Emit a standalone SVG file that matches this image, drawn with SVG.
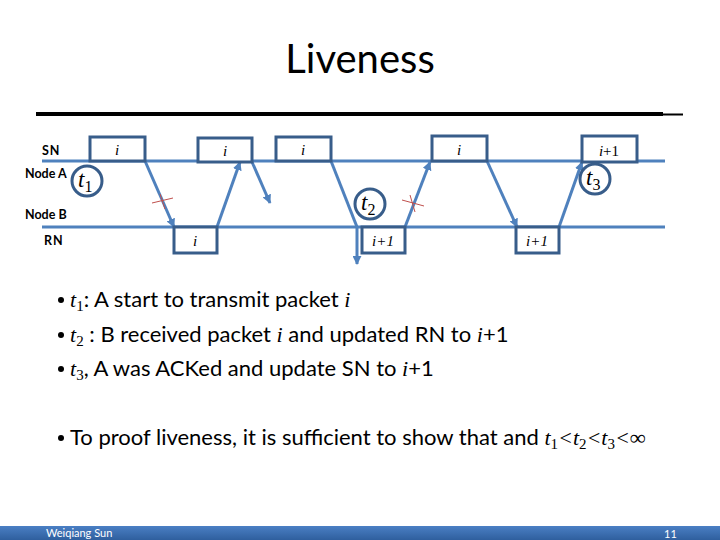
<svg xmlns="http://www.w3.org/2000/svg" width="720" height="540" viewBox="0 0 720 540">
<style>
.title{font-family:Lato,"Open Sans",sans-serif;font-size:40px;fill:#000}
.lbl{font-family:Lato,"Liberation Sans",sans-serif;font-size:12.5px;font-weight:bold;fill:#000}
.axis{stroke:#4f81bd;stroke-width:3;fill:none}
.box{fill:#fff;stroke:#385d8a;stroke-width:3}
.bt{font-family:"Liberation Serif",serif;font-style:italic;font-size:15px;fill:#000;text-anchor:middle}
.circ{fill:#fff;stroke:#385d8a;stroke-width:3}
.tt{font-family:"Liberation Serif",serif;font-style:italic;font-size:23px;fill:#000}
.ts{font-family:"Liberation Serif",serif;font-style:normal;font-size:16px}
.arr{stroke:#4f81bd;stroke-width:3;fill:none}
.x{stroke:#c0504d;stroke-width:1}
.body{font-family:Lato,"Open Sans",sans-serif;font-size:22px;fill:#000}
.it{font-family:"Liberation Serif",serif;font-style:italic}
.sub{font-family:"Liberation Serif",serif;font-size:15px}
.foot{font-family:Lato,"Liberation Sans",sans-serif;font-size:11px;fill:#fff}
</style>
<defs>
<marker id="ah" viewBox="0 0 10 10" refX="9" refY="5" markerWidth="9" markerHeight="9" markerUnits="userSpaceOnUse" orient="auto">
<path d="M0,0 L10,5 L0,10 z" fill="#4f81bd"/>
</marker>
<linearGradient id="fg" x1="0" y1="0" x2="0" y2="1">
<stop offset="0" stop-color="#4a7fc4"/>
<stop offset="1" stop-color="#2f5f9e"/>
</linearGradient>
</defs>
<rect width="720" height="540" fill="#fff"/>
<text class="title" x="360" y="73" text-anchor="middle">Liveness</text>
<line x1="36" y1="114" x2="663" y2="114" stroke="#000" stroke-width="4"/>
<line x1="663" y1="114.5" x2="683" y2="114.5" stroke="#000" stroke-width="2"/>

<g id="labels">
<text class="lbl" x="42" y="155" letter-spacing="1">SN</text>
<text class="lbl" x="25" y="178">Node A</text>
<text class="lbl" x="25" y="219">Node B</text>
<text class="lbl" x="44" y="245" letter-spacing="1">RN</text>
</g>

<g id="timelines">
<line class="axis" x1="42" y1="161" x2="665" y2="161"/>
<line class="axis" x1="42" y1="227" x2="665" y2="227"/>
</g>

<g id="connectors">
<line class="arr" x1="145" y1="161" x2="174" y2="227" marker-end="url(#ah)"/>
<line class="arr" x1="217" y1="227" x2="240" y2="162" marker-end="url(#ah)"/>
<line class="arr" x1="252" y1="162" x2="270" y2="203" marker-end="url(#ah)"/>
<line class="arr" x1="331" y1="161" x2="357" y2="227"/>
<line class="arr" x1="357" y1="227" x2="357" y2="264" marker-end="url(#ah)"/>
<line class="arr" x1="405" y1="227" x2="430" y2="162" marker-end="url(#ah)"/>
<line class="arr" x1="487" y1="161" x2="517" y2="227" marker-end="url(#ah)"/>
<line class="arr" x1="559" y1="227" x2="582" y2="162" marker-end="url(#ah)"/>
</g>

<g id="box1"><rect class="box" x="90" y="137" width="55" height="24"/><text class="bt" x="117" y="155">i</text></g>
<g id="box2"><rect class="box" x="198" y="138" width="54" height="24"/><text class="bt" x="225" y="156">i</text></g>
<g id="box3"><rect class="box" x="276" y="137" width="55" height="24"/><text class="bt" x="303" y="155">i</text></g>
<g id="box4"><rect class="box" x="432" y="136" width="55" height="25"/><text class="bt" x="459" y="155">i</text></g>
<g id="box5"><rect class="box" x="582" y="136" width="55" height="26"/><text class="bt" x="609" y="156" font-size="17">i<tspan font-style="normal">+1</tspan></text></g>
<g id="boxa"><rect class="box" x="174" y="227" width="43" height="26"/><text class="bt" x="195" y="246">i</text></g>
<g id="boxb"><rect class="box" x="362" y="227" width="43" height="26"/><text class="bt" x="383" y="246">i+1</text></g>
<g id="boxc"><rect class="box" x="516" y="227" width="43" height="26"/><text class="bt" x="537" y="246">i+1</text></g>

<g id="t1"><circle class="circ" cx="87" cy="181" r="15"/><text class="tt" x="78" y="187">t<tspan class="ts" dy="5">1</tspan></text></g>
<g id="t2"><circle class="circ" cx="370" cy="204" r="15"/><text class="tt" x="361" y="210">t<tspan class="ts" dy="5">2</tspan></text></g>
<g id="t3"><circle class="circ" cx="595" cy="179" r="15"/><text class="tt" x="586" y="185">t<tspan class="ts" dy="5">3</tspan></text></g>

<g id="x1"><line class="x" x1="152" y1="203" x2="173" y2="198"/><line class="x" x1="160" y1="194" x2="165" y2="209"/></g>
<g id="x2"><line class="x" x1="402" y1="200" x2="424" y2="206"/><line class="x" x1="410" y1="195" x2="415" y2="212"/></g>

<g id="bullets" class="body">
<circle cx="61" cy="300" r="3"/>
<circle cx="61" cy="335" r="3"/>
<circle cx="61" cy="369" r="3"/>
<circle cx="61" cy="438" r="3"/>
<text x="70" y="307"><tspan class="it">t</tspan><tspan class="sub" dy="4">1</tspan><tspan dy="-4">: A start to transmit packet </tspan><tspan class="it">i</tspan></text>
<text x="70" y="342"><tspan class="it">t</tspan><tspan class="sub" dy="4">2</tspan><tspan dy="-4"> : B received packet </tspan><tspan class="it">i</tspan> and updated RN to <tspan class="it">i</tspan>+1</text>
<text x="70" y="376"><tspan class="it">t</tspan><tspan class="sub" dy="4">3</tspan><tspan dy="-4">, A was ACKed and update SN to </tspan><tspan class="it">i</tspan>+1</text>
<text x="70" y="445">To proof liveness, it is sufficient to show that and <tspan class="it">t</tspan><tspan class="sub" dy="4">1</tspan><tspan class="it" font-style="normal" dy="-4">&lt;</tspan><tspan class="it">t</tspan><tspan class="sub" dy="4">2</tspan><tspan class="it" font-style="normal" dy="-4">&lt;</tspan><tspan class="it">t</tspan><tspan class="sub" dy="4">3</tspan><tspan class="it" font-style="normal" dy="-4">&lt;∞</tspan></text>
</g>

<g id="footer">
<rect x="0" y="526" width="720" height="14" fill="url(#fg)"/>
<text class="foot" x="46" y="537">Weiqiang Sun</text>
<text class="foot" x="664" y="538">11</text>
</g>
</svg>
